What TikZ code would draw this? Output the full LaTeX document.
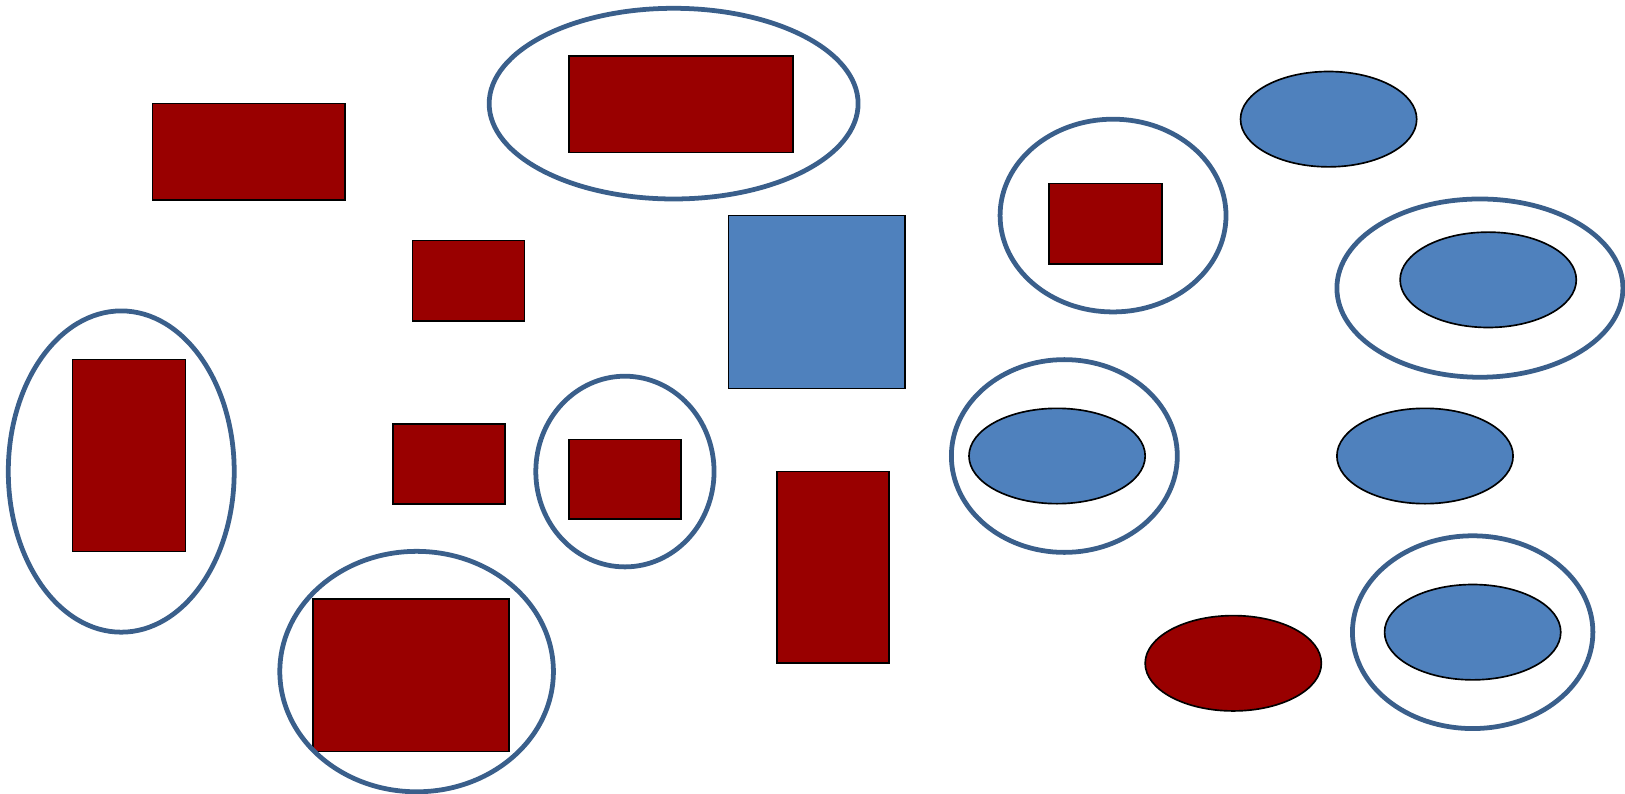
\documentclass[tikz,border=0pt]{standalone}
\usetikzlibrary{shapes.geometric}
\definecolor{dred}{HTML}{990000}
\definecolor{lblue}{HTML}{4F81BD}
\definecolor{oblue}{HTML}{3A5F8B}
\tikzset{
  redbox/.style={rectangle, draw=black, line width=1.6pt, fill=dred, inner sep=0pt},
  bluebox/.style={rectangle, draw=black, line width=1.6pt, fill=lblue, inner sep=0pt},
  blueoval/.style={ellipse, draw=black, line width=1.6pt, fill=lblue, inner sep=0pt},
  redoval/.style={ellipse, draw=black, line width=1.6pt, fill=dred, inner sep=0pt},
  ring/.style={ellipse, draw=oblue, line width=4.6pt, inner sep=0pt},
}
\newcommand{\rbox}[6]{\node[#1, minimum width=#4pt-#2pt, minimum height=#5pt-#3pt] (#6) at ({(#2+#4)/2},{(#3+#5)/2}) {};}
\begin{document}
\begin{tikzpicture}[x=1pt,y=-1pt]
\useasboundingbox (0,0) rectangle (1568,766);
% boxes
\rbox{redbox}{147}{100}{333}{193}{r1}
\rbox{redbox}{549}{54}{765}{147}{r2}
\rbox{redbox}{398}{232}{506}{310}{r3}
\rbox{bluebox}{703}{208}{873}{375}{b1}
\rbox{redbox}{1012}{177}{1121}{255}{r4}
\rbox{redbox}{70}{347}{179}{532}{r5}
\rbox{redbox}{379}{409}{487}{486}{r6}
\rbox{redbox}{549}{424}{657}{501}{r7}
\rbox{redbox}{750}{455}{858}{640}{r8}
\rbox{redbox}{302}{578}{491}{725}{r9}
% filled ovals
\node[blueoval, minimum width=170pt, minimum height=92pt] (e1) at (1282,115) {};
\node[blueoval, minimum width=170pt, minimum height=92pt] (e2) at (1436,270) {};
\node[blueoval, minimum width=170pt, minimum height=92pt] (e3) at (1020,440) {};
\node[blueoval, minimum width=170pt, minimum height=92pt] (e4) at (1375,440) {};
\node[redoval, minimum width=170pt, minimum height=92pt] (e5) at (1190,640) {};
\node[blueoval, minimum width=170pt, minimum height=92pt] (e6) at (1421,610) {};
% rings
\node[ring, minimum width=356pt, minimum height=184pt] (c1) at (650,100) {};
\node[ring, minimum width=218pt, minimum height=186pt] (c2) at (1074,208) {};
\node[ring, minimum width=276pt, minimum height=172pt] (c3) at (1428,278) {};
\node[ring, minimum width=218pt, minimum height=310pt] (c4) at (117,455) {};
\node[ring, minimum width=172pt, minimum height=184pt] (c5) at (603,455) {};
\node[ring, minimum width=218pt, minimum height=186pt] (c6) at (1027,440) {};
\node[ring, minimum width=232pt, minimum height=186pt] (c7) at (1421,610) {};
\node[ring, minimum width=264pt, minimum height=232pt] (c8) at (402,648) {};
\end{tikzpicture}
\end{document}
